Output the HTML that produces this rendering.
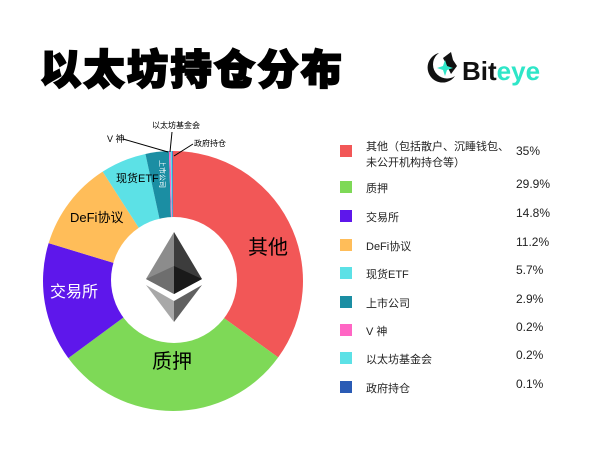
<!DOCTYPE html>
<html><head><meta charset="utf-8"><style>
body{margin:0;background:#fff;}
svg{display:block;font-family:"Liberation Sans","Noto Sans CJK SC",sans-serif;}
</style></head><body>
<svg id="s" width="600" height="450" viewBox="0 0 600 450">
<rect width="600" height="450" fill="#fff"/>
<text x="40" y="84" font-size="41" font-weight="900" fill="#000" stroke="#000" stroke-width="2" letter-spacing="2.5" font-family="'Noto Sans CJK SC',sans-serif">以太坊持仓分布</text>
<!-- logo -->
<g transform="translate(425,50)">
<path d="M14 3 A15 15 0 1 0 30 26 A11 11 0 1 1 14 3 Z" fill="#111"/>
<path d="M18 8 L26 2 L28 10 L32 16 L26 24 Z" fill="#111"/>
<path d="M20 10 L22 16 L28 18 L22 20 L20 26 L18 20 L12 18 L18 16 Z" fill="#2ee6c8"/>
</g>
<text x="462" y="80" font-size="26" font-weight="bold" fill="#111">Bit<tspan fill="#2ee6c8">eye</tspan></text>
<g id="pie"></g>
<circle cx="174" cy="280" r="63" fill="#fff"/>
<polygon points="174,232 146,279 174,294" fill="#8c8c8c"/>
<polygon points="174,232 202,279 174,294" fill="#3c3c3c"/>
<polygon points="146,279 174,266 174,294" fill="#6e6e6e"/>
<polygon points="202,279 174,266 174,294" fill="#1a1a1a"/>
<polygon points="146,285 174,301 174,322" fill="#a8a8a8"/>
<polygon points="202,285 174,301 174,322" fill="#606060"/>
<text x="248" y="254" font-size="20" fill="#000">其他</text>
<text x="152" y="368" font-size="20" fill="#000">质押</text>
<text x="50" y="297" font-size="16" fill="#fff">交易所</text>
<text x="70" y="222" font-size="13" fill="#000">DeFi协议</text>
<text x="116" y="182" font-size="11" fill="#000">现货ETF</text>
<text font-size="7" fill="#fff" transform="translate(160,160) rotate(90)">上市公司</text>
<line x1="123" y1="139" x2="168" y2="152" stroke="#000" stroke-width="1"/>
<text x="107" y="142" font-size="9" fill="#000">V 神</text>
<line x1="172" y1="132" x2="170" y2="152" stroke="#000" stroke-width="1"/>
<text x="152" y="128" font-size="8" fill="#000">以太坊基金会</text>
<line x1="193" y1="144" x2="174" y2="156" stroke="#000" stroke-width="1"/>
<text x="194" y="146" font-size="8" fill="#000">政府持仓</text>
<g id="leg" font-size="11" fill="#222"></g>
</svg>
<script>
var d=[[35,"#f25757"],[29.9,"#7ed957"],[14.8,"#5e17eb"],[11.2,"#ffbd59"],[5.7,"#5ce1e6"],[2.9,"#1b8ea3"],[0.2,"#ff66c4"],[0.2,"#5ce1e6"],[0.1,"#2a5bb5"]];
var cx=173,cy=281,r=130,a=0,g=document.getElementById('pie'),h='';
d.forEach(function(e){var a2=a+e[0]*3.6;var p=function(t){t=(t-90)*Math.PI/180;return (cx+r*Math.cos(t)).toFixed(2)+','+(cy+r*Math.sin(t)).toFixed(2)};
h+='<path d="M'+cx+','+cy+' L'+p(a)+' A'+r+','+r+' 0 '+(a2-a>180?1:0)+' 1 '+p(a2)+' Z" fill="'+e[1]+'"/>';a=a2;});
g.innerHTML=h;
var L=[["其他（包括散户、沉睡钱包、","35%","#f25757",151],["质押","29.9%","#7ed957",187],["交易所","14.8%","#5e17eb",216],["DeFi协议","11.2%","#ffbd59",245],["现货ETF","5.7%","#5ce1e6",273],["上市公司","2.9%","#1b8ea3",302],["V 神","0.2%","#ff66c4",330],["以太坊基金会","0.2%","#5ce1e6",358],["政府持仓","0.1%","#2a5bb5",387]];
var s='';L.forEach(function(e,i){s+='<rect x="340" y="'+(e[3]-6)+'" width="12" height="12" fill="'+e[2]+'"/>';
s+='<text x="366" y="'+(e[3]+(i==0?-1:5))+'">'+e[0]+'</text><text x="516" y="'+(e[3]+(i==0?4:1))+'" font-size="12">'+e[1]+'</text>';});
s+='<text x="366" y="166">未公开机构持仓等）</text>';
document.getElementById('leg').innerHTML=s;
</script>
</body></html>
